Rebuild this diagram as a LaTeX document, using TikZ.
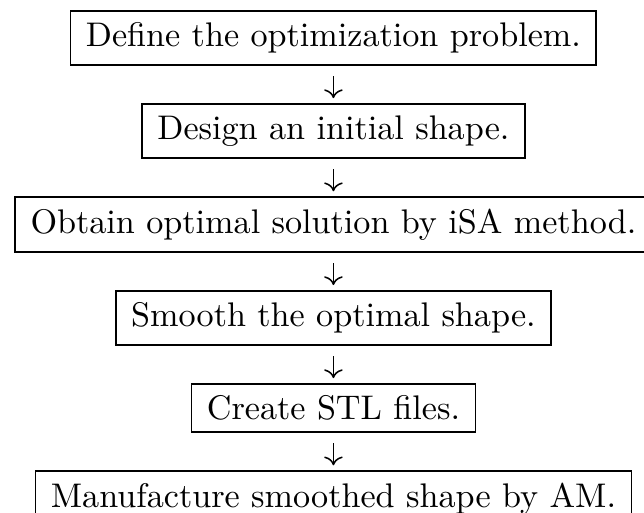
\documentclass[tikz,border=0pt]{standalone}
\usetikzlibrary{positioning}
\usetikzlibrary{arrows.meta}

\begin{document}
\begin{tikzpicture}[
    flowbox/.style={draw=black, line width=0.5pt, inner xsep=4.5pt, inner ysep=3.4pt},
    flowarrow/.style={-{To}, line width=0.45pt, shorten <=3pt, shorten >=1.5pt},
    node distance=10.95pt
]
    \useasboundingbox (-97.6pt,3.0pt) rectangle (90.9pt,-146.9pt);

    \node[flowbox, anchor=north] (define) at (0,0) {Define the optimization problem.};
    \node[flowbox, below=of define] (design) {Design an initial shape.};
    \node[flowbox, below=of design] (isa) {Obtain optimal solution by iSA method.};
    \node[flowbox, below=of isa] (smooth) {Smooth the optimal shape.};
    \node[flowbox, below=of smooth] (stl) {Create STL files.};
    \node[flowbox, below=of stl] (am) {Manufacture smoothed shape by AM.};

    \draw[flowarrow] (define) -- (design);
    \draw[flowarrow] (design) -- (isa);
    \draw[flowarrow] (isa) -- (smooth);
    \draw[flowarrow] (smooth) -- (stl);
    \draw[flowarrow] (stl) -- (am);
\end{tikzpicture}
\end{document}
